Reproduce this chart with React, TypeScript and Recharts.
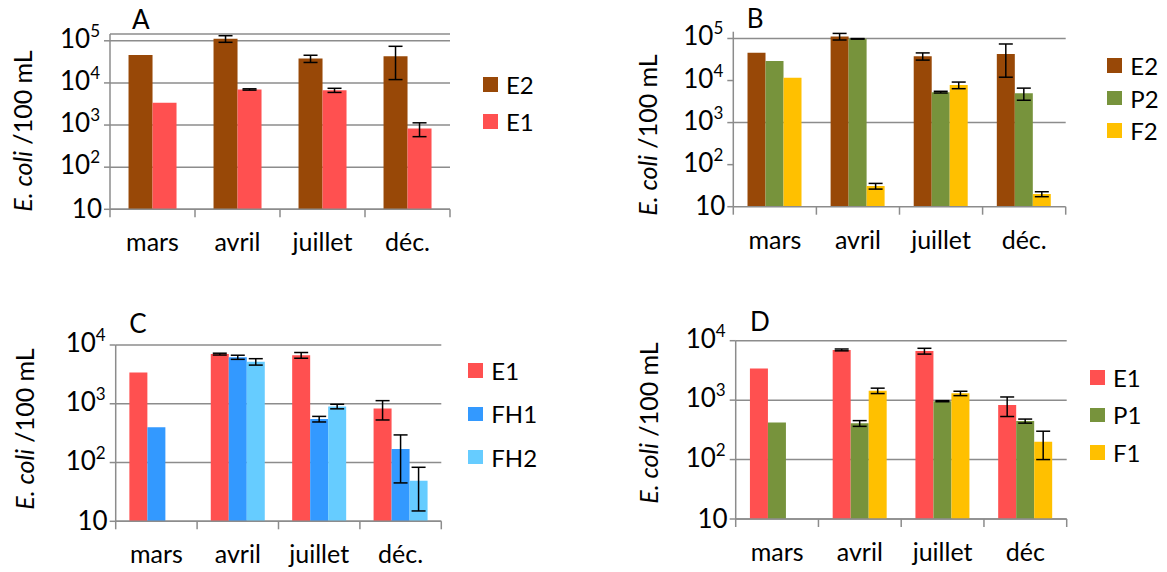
import React from 'react';
import { BarChart, Bar, XAxis, YAxis, CartesianGrid, ErrorBar, Legend } from 'recharts';

// mois des campagnes
const months = ['mars', 'avril', 'juillet', 'déc.'];
const monthsD = ['mars', 'avril', 'juillet', 'déc'];

// E. coli /100 mL (moyenne) et écart-type
const E2 = [46000, 112000, 38000, 43000];
const E2err = [null, 20000, 7400, 31000];
const E1 = [3400, 7000, 6700, 830];
const E1err = [null, 250, 750, 300];
const P2 = [29000, 98000, 5300, 5000];
const P2err = [null, 1500, 250, 1600];
const F2 = [11600, 31, 7800, 20];
const F2err = [null, 4.8, 1400, 2.7];
const FH1 = [400, 6200, 550, 170];
const FH1err = [null, 500, 60, 125];
const FH2 = [null, 5200, 900, 49];
const FH2err = [null, 650, 80, 34];
const P1 = [420, 407, 960, 445];
const P1err = [null, 45, 20, 35];
const F1 = [null, 1440, 1300, 200];
const F1err = [null, 150, 110, 100];

const ticks5 = [10, 100, 1000, 10000, 100000];
const ticks4 = [10, 100, 1000, 10000];

const GRID = '#8c8c8c';
const FONT = 'Lato, "Open Sans", sans-serif';
const BROWN = '#984807';
const RED = '#FF5050';
const GREEN = '#77933C';
const YELLOW = '#FFC000';
const BLUE = '#3399FF';
const LIGHTBLUE = '#66CCFF';

function buildRows(cats: string[], series: [string, any[], any[]][]) {
  return cats.map((c, i) => {
    const row: any = { month: c };
    series.forEach(([k, vals, errs]) => {
      row[k] = vals[i];
      row[k + 'err'] = errs[i];
    });
    return row;
  });
}

const XTick = (p: any) => {
  const { x, y, payload, index, visibleTicksCount, bw } = p;
  const bx = x - bw / 2;
  return (
    <g>
      <line x1={bx} x2={bx} y1={y - 8} y2={y} stroke={GRID} strokeWidth={1.5} />
      {index === visibleTicksCount - 1 && (
        <line x1={x + bw / 2} x2={x + bw / 2} y1={y - 8} y2={y} stroke={GRID} strokeWidth={1.5} />
      )}
      <text x={x} y={y + 34} textAnchor="middle" fontSize={25} fontFamily={FONT} fill="#000">
        {payload.value}
      </text>
    </g>
  );
};

const YTick = (p: any) => {
  const { x, y, payload } = p;
  const e = Math.round(Math.log10(payload.value));
  if (e === 1) {
    return (
      <text x={x} y={y + 8.5} textAnchor="end" fontSize={26} fontFamily={FONT} fill="#000">10</text>
    );
  }
  return (
    <text x={x - 2} y={y + 7} textAnchor="end" fontSize={26} fontFamily={FONT} fill="#000">
      10<tspan dy={-11} fontSize={17}>{e}</tspan>
    </text>
  );
};

const Panel = ({ cfg }: any) => {
  const { width, height, yw, margin } = cfg;
  const bw = (width - yw - margin.right) / cfg.rows.length;
  const step = cfg.legend.step;
  return (
    <div style={{ position: 'absolute', left: cfg.left, top: cfg.top }}>
      <BarChart
        width={width}
        height={height}
        data={cfg.rows}
        margin={{ top: margin.top, right: margin.right, bottom: margin.bottom, left: 0 }}
        barCategoryGap={cfg.gap}
        barGap={0}
      >
        <CartesianGrid vertical={false} stroke={GRID} strokeWidth={1.5} horizontalValues={cfg.gridValues} />
        <XAxis
          dataKey="month"
          height={50}
          tickSize={8}
          tickMargin={0}
          tickLine={false}
          interval={0}
          axisLine={{ stroke: GRID, strokeWidth: 1.5 }}
          tick={(p: any) => <XTick {...p} bw={bw} />}
        />
        <YAxis
          scale="log"
          domain={cfg.domain}
          allowDataOverflow
          ticks={cfg.ticks}
          interval={0}
          width={yw}
          tickSize={6}
          tickMargin={2}
          axisLine={{ stroke: GRID, strokeWidth: 1.5 }}
          tickLine={{ stroke: GRID, strokeWidth: 1.5 }}
          tick={<YTick />}
          label={{
            content: () => (
              <g fontFamily={FONT} fill="#000">
                <text x={cfg.letter[0]} y={cfg.letter[1]} fontSize={26}>{cfg.name}</text>
                <text
                  x={cfg.title[0]}
                  y={cfg.title[1]}
                  transform={`rotate(-90 ${cfg.title[0]} ${cfg.title[1]})`}
                  textAnchor="middle"
                  dominantBaseline="central"
                  fontSize={25}
                >
                  <tspan fontStyle="italic">E. coli</tspan>{' /100 mL'}
                </text>
              </g>
            ),
          }}
        />
        <Legend
          layout="horizontal"
          align="center"
          verticalAlign="middle"
          wrapperStyle={{ left: cfg.legend.x, top: cfg.legend.y - (step - 14.5) / 2, width: 'auto' }}
          content={() => (
            <div style={{ fontFamily: FONT, fontSize: 24, color: '#000' }}>
              {cfg.series.map((s: any) => (
                <div key={s.key} style={{ height: step, display: 'flex', alignItems: 'center' }}>
                  <span style={{ width: 14.5, height: 14.5, background: s.color, marginRight: 8.5, display: 'inline-block' }} />
                  {s.key}
                </div>
              ))}
            </div>
          )}
        />
        {cfg.series.map((s: any) => (
          <Bar key={s.key} dataKey={s.key} fill={s.color} isAnimationActive={false}>
            <ErrorBar dataKey={s.key + 'err'} width={7} stroke="#000" strokeWidth={1.5} isAnimationActive={false} />
          </Bar>
        ))}
      </BarChart>
    </div>
  );
};

const panels = [
  {
    name: 'A', left: 0, top: 0, width: 580, height: 285, yw: 110,
    margin: { top: 34, right: 130, bottom: 25.7 },
    domain: [10, 145000], ticks: ticks5, gap: '21.8%',
    rows: buildRows(months, [['E2', E2, E2err], ['E1', E1, E1err]]),
    series: [{ key: 'E2', color: BROWN }, { key: 'E1', color: RED }],
    letter: [132, 28.5], title: [22, 131],
    legend: { x: 483, y: 77, step: 37 },
  },
  {
    name: 'B', left: 580, top: 0, width: 587, height: 285, yw: 153.3,
    margin: { top: 31.7, right: 101.3, bottom: 28.3 },
    domain: [10, 145000], ticks: ticks5, gap: '17.1%', gridValues: [1000, 100000],
    rows: buildRows(months, [['E2', E2, E2err], ['P2', P2, P2err], ['F2', F2, F2err]]),
    series: [{ key: 'E2', color: BROWN }, { key: 'P2', color: GREEN }, { key: 'F2', color: YELLOW }],
    letter: [166.7, 28], title: [66.7, 135],
    legend: { x: 527.3, y: 58.3, step: 32.5 },
  },
  {
    name: 'C', left: 0, top: 285, width: 580, height: 287, yw: 115.7,
    margin: { top: 60, right: 138.7, bottom: 0.7 },
    domain: [10, 10000], ticks: ticks4, gap: '16.8%',
    rows: buildRows(months, [['E1', E1, E1err], ['FH1', FH1, FH1err], ['FH2', FH2, FH2err]]),
    series: [{ key: 'E1', color: RED }, { key: 'FH1', color: BLUE }, { key: 'FH2', color: LIGHTBLUE }],
    letter: [129.3, 48], title: [24, 144],
    legend: { x: 468.3, y: 78.3, step: 43.3 },
  },
  {
    name: 'D', left: 580, top: 285, width: 587, height: 287, yw: 155.7,
    margin: { top: 55.7, right: 100.3, bottom: 3 },
    domain: [10, 10000], ticks: ticks4, gap: '17.2%',
    rows: buildRows(monthsD, [['E1', E1, E1err], ['P1', P1, P1err], ['F1', F1, F1err]]),
    series: [{ key: 'E1', color: RED }, { key: 'P1', color: GREEN }, { key: 'F1', color: YELLOW }],
    letter: [170, 45.7], title: [67.5, 138],
    legend: { x: 510, y: 85, step: 37.5 },
  },
];

export default function App() {
  return (
    <div style={{ position: 'absolute', left: 0, top: 0, width: 1167, height: 572, background: '#fff', fontFamily: FONT }}>
      {panels.map((cfg) => (
        <Panel key={cfg.name} cfg={cfg} />
      ))}
    </div>
  );
}
